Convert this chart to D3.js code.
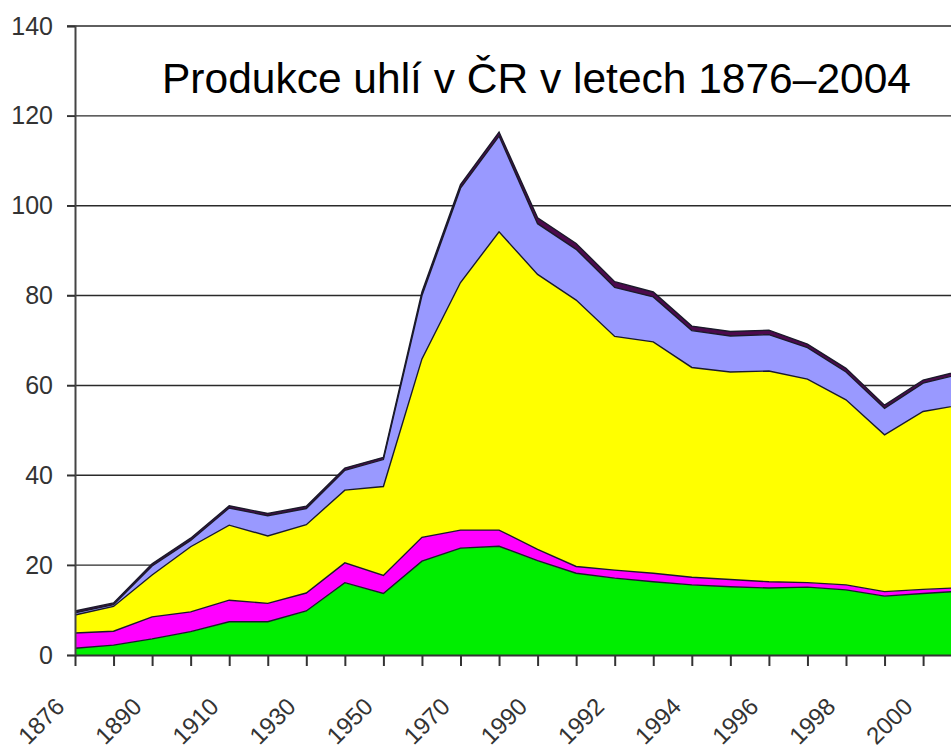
<!DOCTYPE html>
<html><head><meta charset="utf-8">
<script src="https://cdn.jsdelivr.net/npm/d3@7"></script>
<style>body{margin:0;background:#fff;overflow:hidden}</style>
</head><body><svg id="c" width="951" height="751"></svg>
<script>
const years = ["1876","1880","1890","1900","1910","1920","1930","1940","1950","1960","1970","1980",
  "1990","1991","1992","1993","1994","1995","1996","1997","1998","1999","2000","2001","2002","2003","2004"];
const tickLabels = ["1876","1890","1910","1930","1950","1970","1990","1992","1994","1996","1998","2000"];
const yTicks = [0,20,40,60,80,100,120,140];
const greenSeries   = [1.5,2.2,3.6,5.2,7.4,7.4,9.8,16.1,13.7,20.9,23.8,24.2,21.0,18.2,17.1,16.3,15.6,15.2,14.9,15.1,14.5,13.1,13.7,14.2,14.1,13.8,13.7];
const magentaSeries = [3.4,3.1,4.9,4.4,4.8,4.1,4.0,4.4,4.0,5.3,4.0,3.6,2.5,1.5,1.8,1.9,1.7,1.6,1.4,1.0,1.1,1.0,0.9,0.8,0.8,0.8,0.8];
const yellowSeries  = [4.0,5.5,9.3,14.5,16.7,15.0,15.2,16.2,19.8,39.7,55.1,66.4,61.2,59.3,52.0,51.5,46.7,46.2,46.9,45.3,41.2,34.9,39.6,40.7,40.5,41.5,41.0];
const blueSeries    = [0.5,0.4,2.0,1.4,3.8,4.5,3.6,4.4,6.0,14.1,21.0,21.3,11.3,11.3,10.9,10.0,8.2,8.0,8.1,7.0,6.2,5.9,6.3,6.9,6.8,7.0,6.7];
const purpleSeries  = [0.4,0.4,0.5,0.5,0.5,0.5,0.5,0.5,0.5,0.8,0.8,0.9,1.3,1.3,1.3,1.1,1.0,1.0,1.0,0.8,0.8,0.7,0.7,0.7,0.7,0.7,0.7];
const title = "Produkce uhlí v ČR v letech 1876–2004";

const keys = ["green","magenta","yellow","blue","purple"];
const colors = {green:"#00ee00", magenta:"#ff00ff", yellow:"#ffff00", blue:"#9999ff", purple:"#4d0a4d"};
const table = years.map((y,i)=>({year:y, green:greenSeries[i], magenta:magentaSeries[i], yellow:yellowSeries[i], blue:blueSeries[i], purple:purpleSeries[i]}));

const svg = d3.select("#c");
const x0 = 75, step = 38.55;
const x = d3.scalePoint().domain(years).range([x0, x0 + step*(years.length-1)]);
const y = d3.scaleLinear().domain([0,140]).range([655,26]);
const font = "Liberation Sans, Arial, sans-serif";

// gridlines
svg.append("g").selectAll("line").data(yTicks.filter(d=>d>0)).join("line")
  .attr("x1",67).attr("x2",951).attr("y1",d=>y(d)).attr("y2",d=>y(d))
  .attr("stroke","#2a2a2a").attr("stroke-width",1.4);

const stacked = d3.stack().keys(keys)(table);
const area = d3.area().x(d=>x(d.data.year)).y0(d=>y(d[0])).y1(d=>y(d[1]));
const line = d3.line().x(d=>x(d.data.year)).y(d=>y(d[1]));
svg.append("g").selectAll("path").data(stacked).join("path")
  .attr("d",area).attr("fill",d=>colors[d.key]);
svg.append("g").selectAll("path").data(stacked).join("path")
  .attr("d",line).attr("fill","none").attr("stroke","#1a1a2a").attr("stroke-width",1.4);

// y axis
const yAxis = d3.axisLeft(y).tickValues(yTicks).tickSize(8).tickPadding(14);
const gy = svg.append("g").attr("transform","translate(75,0)").call(yAxis);
gy.select(".domain").attr("stroke","#444").attr("stroke-width",2);
gy.selectAll(".tick line").attr("stroke","#333").attr("stroke-width",1.4);
gy.selectAll("text").attr("font-family",font).attr("font-size",25).attr("fill","#333");

// x axis
const xAxis = d3.axisBottom(x).tickSize(11).tickSizeOuter(0).tickFormat(()=> "");
const gx = svg.append("g").attr("transform","translate(0,655)").call(xAxis);
gx.select(".domain").attr("stroke","#333").attr("stroke-width",2);
gx.selectAll(".tick line").attr("stroke","#333").attr("stroke-width",2);

svg.append("g").selectAll("text").data(tickLabels).join("text")
  .attr("transform",d=>`translate(${x(d)-9},708) rotate(-45)`)
  .attr("text-anchor","end")
  .attr("font-family",font).attr("font-size",24).attr("fill","#333")
  .text(d=>d);

svg.append("text").attr("x",162).attr("y",93)
  .attr("font-family",font).attr("font-size",42.5).attr("fill","#000")
  .text(title);
</script></body></html>
